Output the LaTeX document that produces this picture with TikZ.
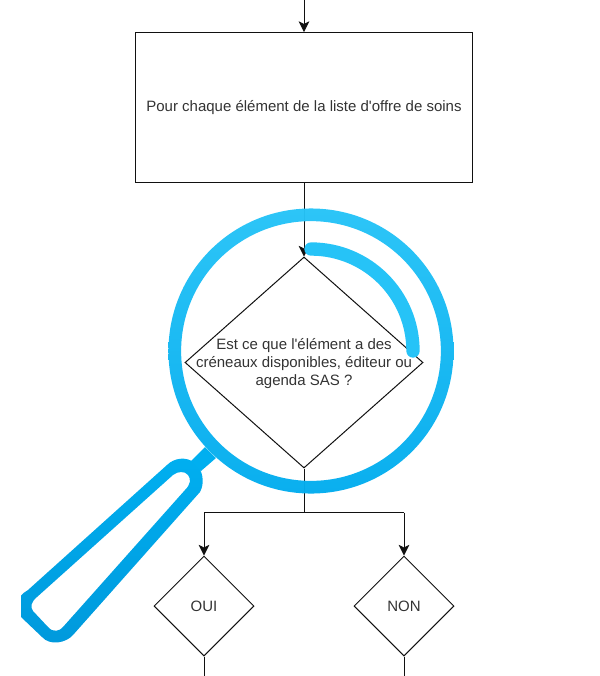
\documentclass[tikz,border=0pt]{standalone}
\usepackage{fontspec}
\setmainfont{Liberation Sans}[Ligatures=TeXOff]
\usetikzlibrary{shapes.geometric,arrows.meta}
\definecolor{flowline}{HTML}{111111}
\definecolor{flowtext}{HTML}{333333}
\definecolor{ringtop}{HTML}{26C3F7}
\definecolor{ringbot}{HTML}{02ACEE}
\definecolor{arccol}{HTML}{26C3F7}
\definecolor{handletop}{HTML}{00AFF0}
\definecolor{handlebot}{HTML}{0099DC}
\tikzset{
  flowshape/.style={draw=flowline,line width=0.75pt,inner sep=0pt,text=flowtext,font=\fontsize{11.25pt}{13.4pt}\selectfont},
  boxnode/.style={flowshape,rectangle,minimum width=252.75pt,minimum height=112.5pt},
  bigdiamond/.style={flowshape,diamond,minimum width=178.5pt,minimum height=158.25pt},
  smalldiamond/.style={flowshape,diamond,minimum width=75pt,minimum height=75pt},
  difftext/.style={align=center,text=flowtext,font=\fontsize{11.25pt}{13.4pt}\selectfont,inner sep=0pt},
  link/.style={draw=flowline,line width=0.75pt},
  arrowlink/.style={link,-{Stealth[length=8pt,width=8pt,inset=2pt]}}
}
\begin{document}
\begin{tikzpicture}[x=0.75pt,y=-0.75pt]
\useasboundingbox (0,0) rectangle (600,676);
% flowchart
\coordinate (topin) at (304,0);
\node[boxnode] (box) at (304,107.5) {\raisebox{-0.3pt}{Pour chaque élément de la liste d'offre de soins}};
\node[bigdiamond,label={[difftext,yshift=-0.75pt]center:{Est ce que l'élément a des\\créneaux disponibles, éditeur ou\\agenda SAS ?}}] (test) at (304,362.5) {};
\coordinate (split) at (304,512.5);
\coordinate (splitl) at (204,512.5);
\coordinate (splitr) at (404,512.5);
\node[smalldiamond] (oui) at (204,606) {OUI};
\node[smalldiamond] (non) at (404,606) {NON};
\coordinate (ouiout) at (204,676);
\coordinate (nonout) at (404,676);
\draw[arrowlink] (topin) -- (box.north -| topin);
\draw[arrowlink] (box.south -| test.north) -- (test.north);
\draw[link] (test.south) -- (split);
\draw[link] (splitl) -- (splitr);
\draw[arrowlink] (splitl) -- (oui.north);
\draw[arrowlink] (splitr) -- (non.north);
\draw[link] (oui.south) -- (ouiout);
\draw[link] (non.south) -- (nonout);
% magnifier
\begin{scope}
\clip (21,0) rectangle (600,676);
\shade[top color=handletop,bottom color=handlebot,even odd rule]
  (28,590) -- (167,465) .. controls (174,458) and (186,456) .. (195,463)
  .. controls (203,470) and (205,483) .. (200,492) -- (73,635)
  .. controls (66,643) and (50,646) .. (42,637) -- (21,617)
  .. controls (14,610) and (15,597) .. (28,590) -- cycle
  (37,597) -- (173,475) .. controls (178,471) and (185,471) .. (188,475)
  .. controls (191,479) and (191,484) .. (185,490) -- (63,627)
  .. controls (60,631) and (53,633) .. (48,627) -- (33,611)
  .. controls (30,607) and (31,602) .. (37,597) -- cycle;
\end{scope}
\fill[handletop] (205,447) -- (216,458) -- (201,471) -- (191,461) -- cycle;
\shade[top color=ringtop,bottom color=ringbot,even odd rule,opacity=0.97]
  (311,351) circle[radius=106.9pt] (311,351) circle[radius=97.4pt];
\draw[arccol,line width=10pt,line cap=round] (311,249) arc[start angle=90,end angle=0,radius=76.5pt];
\end{tikzpicture}
\end{document}
